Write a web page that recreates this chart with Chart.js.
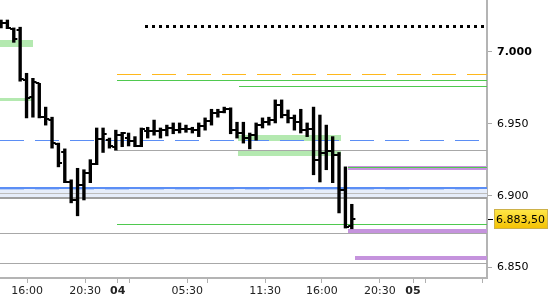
<!DOCTYPE html>
<html>
<head>
<meta charset="utf-8">
<script src="https://cdn.jsdelivr.net/npm/chart.js@4.4.1/dist/chart.umd.min.js"></script>
<style>
  html, body { margin: 0; padding: 0; background: #fff; }
</style>
</head>
<body>
<canvas id="priceChart" width="550" height="300"></canvas>
<script>
// 30 minute bars
const opens  = [7.0205, 7.020, 7.016, 7.015, 6.980, 6.9685, 6.978, 6.9545, 6.9525, 6.936, 6.930, 6.9095, 6.897, 6.9075, 6.916, 6.922,
  6.9395, 6.9385, 6.934, 6.942, 6.940, 6.938, 6.9345, 6.945, 6.945, 6.945, 6.9455, 6.947, 6.9455, 6.9465, 6.9465, 6.9455,
  6.9485, 6.952, 6.9575, 6.958, 6.960, 6.9455, 6.9435, 6.940, 6.942, 6.949, 6.951, 6.9525, 6.963, 6.956, 6.954, 6.951,
  6.9455, 6.9465, 6.925, 6.9295, 6.931, 6.9285, 6.904, 6.879];
const highs  = [7.022, 7.022, 7.0165, 7.017, 6.985, 6.9815, 6.978, 6.9615, 6.9545, 6.9365, 6.9325, 6.911, 6.919, 6.918, 6.925, 6.947,
  6.947, 6.940, 6.9455, 6.944, 6.9435, 6.941, 6.947, 6.9475, 6.9525, 6.947, 6.949, 6.9505, 6.9505, 6.949, 6.9475, 6.9505,
  6.954, 6.960, 6.960, 6.9615, 6.961, 6.951, 6.951, 6.9435, 6.9505, 6.954, 6.9545, 6.9665, 6.9665, 6.9595, 6.956, 6.960,
  6.9505, 6.9615, 6.956, 6.949, 6.941, 6.930, 6.920, 6.894];
const lows   = [7.0165, 7.016, 7.0065, 6.9795, 6.954, 6.9545, 6.954, 6.949, 6.933, 6.920, 6.909, 6.895, 6.886, 6.897, 6.909, 6.9215,
  6.930, 6.933, 6.9315, 6.934, 6.9345, 6.934, 6.934, 6.940, 6.942, 6.940, 6.9415, 6.943, 6.9435, 6.944, 6.9435, 6.941,
  6.9455, 6.949, 6.9545, 6.9575, 6.943, 6.940, 6.9365, 6.9325, 6.9385, 6.947, 6.949, 6.9505, 6.954, 6.9505, 6.9455, 6.9435,
  6.941, 6.9145, 6.9095, 6.918, 6.909, 6.888, 6.8775, 6.877];
const closes = [7.020, 7.0165, 7.009, 6.981, 6.968, 6.979, 6.9545, 6.9535, 6.9365, 6.9225, 6.9095, 6.897, 6.9075, 6.916, 6.922, 6.9395,
  6.943, 6.9345, 6.942, 6.9435, 6.938, 6.9345, 6.9465, 6.945, 6.945, 6.9455, 6.947, 6.9455, 6.9465, 6.9465, 6.9455, 6.9485,
  6.952, 6.9575, 6.958, 6.960, 6.9455, 6.9435, 6.940, 6.942, 6.949, 6.951, 6.9525, 6.963, 6.956, 6.954, 6.951, 6.9455,
  6.9465, 6.925, 6.9295, 6.931, 6.9285, 6.904, 6.878, 6.8835];
const lastPrice = 6.8835;

// time axis (bar index units)
const timeLabels = ['16:00', '20:30', '04', '05:30', '11:30', '16:00', '20:30', '05'];
const timeTickAt = [4.1, 13.2, 18.3, 29.2, 41.4, 50.3, 59.4, 64.6];
const dayLabels = ['04', '05'];
const extraTickAt = [20.2, 32.3, 66.6, 75.5];
const priceTicks = [6.85, 6.90, 6.95, 7.00];

// horizontal levels: value and the bar where they start (null = from the left edge)
const levelValues = [7.0175, 6.9845, 6.9800, 6.9765, 6.9385, 6.9315, 6.9053, 6.9044, 6.9019, 6.8986, 6.8800, 6.8740, 6.8535, 6.9199];
const levelFrom   = [22.6, 18.2, 18.2, 37.3, null, 18.2, null, null, null, null, 18.2, null, null, 54.4];

// zones: high, low, first bar, last bar (null = chart edge)
const zoneHigh = [7.0084, 6.9681, 6.9422, 6.9312, 6.9206, 6.8767, 6.8581, 6.9055];
const zoneLow  = [7.0038, 6.9660, 6.9383, 6.9276, 6.9175, 6.8739, 6.8553, 6.8995];
const zoneFrom = [null, null, 37.2, 37.2, 54.4, 54.4, 55.5, null];
const zoneTo   = [5.0, 4.9, 53.4, 53.4, null, null, null, null];

const GREEN = '#4fc94f', GRAY = '#a8a8a8', BLUE = '#5b8ef5';
const levelStyles = [
  { color: '#000', width: 3, dash: [3, 4] },
  { color: '#ffb81c', width: 1, dash: [24, 11] },
  { color: GREEN, width: 1 },
  { color: GREEN, width: 1 },
  { color: BLUE, width: 1, dash: [24, 11] },
  { color: GRAY, width: 1 },
  { color: BLUE, width: 2 },
  { color: '#b5ccf7', width: 1, dash: [24, 11] },
  { color: '#bdbdbd', width: 1 },
  { color: '#a0a0a0', width: 2 },
  { color: GREEN, width: 1 },
  { color: GRAY, width: 1 },
  { color: GRAY, width: 1 },
  { color: GREEN, width: 1 },
];
const zoneColors = ['#b4e9b0', '#b4e9b0', '#b4e9b0', '#b4e9b0', '#c593dd', '#c593dd', '#c593dd', '#e6edfa'];

const xTicks = timeTickAt.map((v, i) => ({ value: v, label: timeLabels[i] }))
  .concat(extraTickAt.map(v => ({ value: v, label: '' })))
  .sort((a, b) => a.value - b.value);

const crisp = (p, w) => (w % 2 ? Math.round(p) + 0.5 : Math.round(p));

const levelsPlugin = {
  id: 'levels',
  beforeDatasetsDraw(chart) {
    const { ctx, chartArea: a, scales: { x, y } } = chart;
    ctx.save();
    ctx.beginPath();
    ctx.rect(a.left, a.top, a.right - a.left, a.bottom - a.top);
    ctx.clip();
    // zones
    zoneHigh.forEach((hi, k) => {
      const x0 = zoneFrom[k] == null ? a.left : x.getPixelForValue(zoneFrom[k]);
      const x1 = zoneTo[k] == null ? a.right : x.getPixelForValue(zoneTo[k]);
      const y0 = y.getPixelForValue(hi);
      const y1 = y.getPixelForValue(zoneLow[k]);
      ctx.fillStyle = zoneColors[k];
      ctx.fillRect(Math.round(x0), Math.round(y0), Math.round(x1 - x0), Math.max(1, Math.round(y1 - y0)));
    });
    // lines
    levelValues.forEach((v, k) => {
      const st = levelStyles[k];
      const x0 = levelFrom[k] == null ? a.left : x.getPixelForValue(levelFrom[k]);
      const yy = crisp(y.getPixelForValue(v), st.width);
      ctx.strokeStyle = st.color;
      ctx.lineWidth = st.width;
      ctx.setLineDash(st.dash || []);
      ctx.beginPath();
      ctx.moveTo(Math.round(x0), yy);
      ctx.lineTo(a.right, yy);
      ctx.stroke();
    });
    ctx.restore();
  }
};

const ohlcTicksPlugin = {
  id: 'ohlcTicks',
  afterDatasetsDraw(chart) {
    const { ctx, scales: { x, y } } = chart;
    ctx.save();
    ctx.strokeStyle = '#000';
    ctx.lineWidth = 2;
    opens.forEach((o, i) => {
      const px = x.getPixelForValue(i);
      const yo = Math.round(y.getPixelForValue(o));
      const yc = Math.round(y.getPixelForValue(closes[i]));
      ctx.beginPath();
      ctx.moveTo(px - 3.6, yo);
      ctx.lineTo(px, yo);
      ctx.moveTo(px, yc);
      ctx.lineTo(px + 3.6, yc);
      ctx.stroke();
    });
    ctx.restore();
  }
};

// "6.883,50" style label
function priceText(v) {
  const t = v.toFixed(5);
  return t.slice(0, 5) + ',' + t.slice(5);
}

const lastPricePlugin = {
  id: 'lastPrice',
  afterDraw(chart) {
    const { ctx, chartArea: a, scales: { y } } = chart;
    const py = Math.round(y.getPixelForValue(lastPrice));
    ctx.save();
    ctx.strokeStyle = '#000';
    ctx.lineWidth = 1;
    ctx.beginPath();
    ctx.moveTo(a.right + 1, py + 0.5);
    ctx.lineTo(a.right + 6, py + 0.5);
    ctx.stroke();
    const bx = a.right + 7, by = py - 10, bw = 54, bh = 20;
    const g = ctx.createLinearGradient(0, by, 0, by + bh);
    g.addColorStop(0, '#ffe84a');
    g.addColorStop(1, '#f3c000');
    ctx.fillStyle = g;
    ctx.fillRect(bx, by, bw, bh);
    ctx.strokeStyle = '#cdb14a';
    ctx.strokeRect(bx + 0.5, by + 0.5, bw - 1, bh - 1);
    ctx.fillStyle = '#000';
    ctx.font = '11px "DejaVu Sans"';
    ctx.textBaseline = 'middle';
    ctx.textAlign = 'left';
    ctx.fillText(priceText(lastPrice), bx + 2, py + 1);
    ctx.restore();
  }
};

new Chart(document.getElementById('priceChart'), {
  type: 'bar',
  data: {
    datasets: [{
      data: highs.map((h, i) => ({ x: i, y: [lows[i], h] })),
      backgroundColor: '#000',
      borderWidth: 0,
      barThickness: 2.7,
    }]
  },
  options: {
    responsive: false,
    animation: false,
    layout: { padding: 0 },
    plugins: { legend: { display: false }, tooltip: { enabled: false } },
    scales: {
      x: {
        type: 'linear',
        min: -0.16,
        max: 76.2,
        offset: false,
        afterBuildTicks: s => { s.ticks = xTicks.map(t => ({ value: t.value })); },
        afterFit: s => { s.height = 22; s.paddingLeft = 0; s.paddingRight = 0; },
        ticks: {
          autoSkip: false,
          maxRotation: 0,
          padding: 2,
          color: '#222',
          callback: (v, i) => (xTicks[i] ? xTicks[i].label : ''),
          font: c => {
            const t = c.index != null ? xTicks[c.index] : null;
            return { family: 'DejaVu Sans', size: 11, weight: t && dayLabels.includes(t.label) ? 'bold' : 'normal' };
          },
        },
        grid: { drawOnChartArea: false, tickLength: 5, color: '#b0b0b0', offset: false },
        border: { color: '#b4b4b4', width: 2 },
      },
      y: {
        type: 'linear',
        position: 'right',
        min: 6.8428,
        max: 7.0359,
        afterBuildTicks: s => { s.ticks = priceTicks.map(v => ({ value: v })); },
        afterFit: s => { s.width = 63; s.paddingTop = 0; s.paddingBottom = 0; },
        ticks: {
          padding: 5,
          color: '#000',
          callback: v => v.toFixed(3),
          font: c => {
            const v = c.index != null ? priceTicks[c.index] : null;
            const round = v != null && Math.abs(v - Math.round(v)) < 1e-9;
            return { family: 'DejaVu Sans', size: 11, weight: round ? 'bold' : 'normal' };
          },
        },
        grid: { drawOnChartArea: false, tickLength: 5, color: '#aaa' },
        border: { color: '#b4b4b4', width: 2 },
      }
    }
  },
  plugins: [levelsPlugin, ohlcTicksPlugin, lastPricePlugin]
});
</script>
</body>
</html>
